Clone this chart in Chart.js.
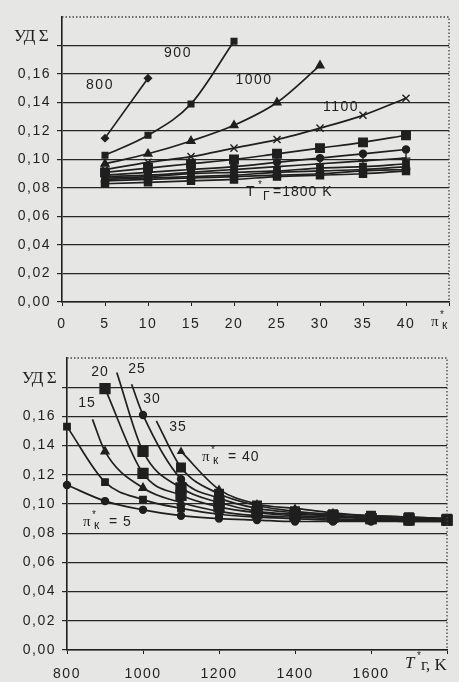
<!DOCTYPE html>
<html>
<head>
<meta charset="utf-8">
<script src="https://cdn.jsdelivr.net/npm/chart.js@4/dist/chart.umd.min.js"></script>
<style>
  html, body { margin: 0; padding: 0; background: #e6e6e4; }
  #wrap { position: relative; width: 459px; height: 682px; overflow: hidden; }
  canvas { position: absolute; left: 0; }
  #top { top: 0; }
  #bot { top: 340px; }
</style>
</head>
<body>
<div id="wrap">
  <canvas id="top" width="459" height="340"></canvas>
  <canvas id="bot" width="459" height="342"></canvas>
</div>
<script>
// --- верхний график: УДΣ от π*к при разных T*г ---
const piK = [5, 10, 15, 20, 25, 30, 35, 40];
const T800 = [0.115, 0.157];
const T900 = [0.103, 0.117, 0.139, 0.183];
const T1000 = [0.097, 0.104, 0.113, 0.124, 0.140, 0.166];
const T1100 = [0.093, 0.098, 0.102, 0.108, 0.114, 0.122, 0.131, 0.143];
const T1200 = [0.091, 0.094, 0.097, 0.100, 0.104, 0.108, 0.112, 0.117];
const T1300 = [0.089, 0.091, 0.093, 0.095, 0.098, 0.101, 0.104, 0.107];
const T1400 = [0.088, 0.089, 0.091, 0.093, 0.095, 0.097, 0.099, 0.101];
const T1500 = [0.087, 0.088, 0.090, 0.091, 0.092, 0.094, 0.095, 0.097];
const T1600 = [0.086, 0.087, 0.088, 0.089, 0.091, 0.092, 0.093, 0.095];
const T1700 = [0.085, 0.086, 0.087, 0.088, 0.089, 0.090, 0.092, 0.093];
const T1800 = [0.083, 0.084, 0.085, 0.086, 0.088, 0.089, 0.090, 0.092];
const xTicksTop = [0, 5, 10, 15, 20, 25, 30, 35, 40];

// --- нижний график: УДΣ от T*г при разных π*к ---
const Tg = [800, 900, 1000, 1100, 1200, 1300, 1400, 1500, 1600, 1700, 1800];
const pk5 = [0.113, 0.102, 0.096, 0.092, 0.090, 0.089, 0.088, 0.088, 0.088, 0.088, 0.088];
const pk10 = [0.153, 0.115, 0.103, 0.097, 0.093, 0.091, 0.090, 0.089, 0.089, 0.088, 0.088];
const pk15 = [null, 0.136, 0.111, 0.101, 0.095, 0.092, 0.091, 0.090, 0.089, 0.089, 0.088];
const pk20 = [null, 0.179, 0.121, 0.106, 0.098, 0.094, 0.092, 0.091, 0.090, 0.089, 0.089];
const pk25 = [null, null, 0.136, 0.111, 0.101, 0.095, 0.093, 0.092, 0.090, 0.090, 0.089];
const pk30 = [null, null, 0.161, 0.117, 0.104, 0.097, 0.094, 0.092, 0.091, 0.090, 0.089];
const pk35 = [null, null, null, 0.125, 0.107, 0.099, 0.095, 0.093, 0.092, 0.091, 0.090];
const pk40 = [null, null, null, 0.136, 0.110, 0.100, 0.097, 0.094, 0.092, 0.091, 0.090];
// начала кривых без маркера (15, 25, 30, 35)
const curveStartT = { 15: 867, 25: 931, 30: 970, 35: 1035 };
const curveStartV = { 15: 0.158, 25: 0.190, 30: 0.182, 35: 0.157 };
const xTicksBot = [800, 1000, 1200, 1400, 1600];

const yTicks = [0, 0.02, 0.04, 0.06, 0.08, 0.10, 0.12, 0.14, 0.16];

const ink = '#1f1f1f';
const tickFont = { family: '"Liberation Sans", Arial, sans-serif', size: 14 };

function pts(xs, ys) {
    const out = [];
    ys.forEach((v, i) => { if (v !== null) out.push({ x: xs[i], y: v }); });
    return out;
}

function series(data, style, radius, extra) {
    return Object.assign({
        data: data,
        borderColor: ink,
        backgroundColor: ink,
        borderWidth: 1.7,
        pointStyle: style,
        pointRadius: radius,
        pointBorderWidth: 1.4,
        cubicInterpolationMode: 'monotone',
        clip: false
    }, extra || {});
}

// кривая с невидимой начальной точкой
function curve(k, ys, style, radius) {
    const data = pts(Tg, ys);
    if (curveStartT[k]) data.unshift({ x: curveStartT[k], y: curveStartV[k] });
    const r = data.map((p, i) => (curveStartT[k] && i === 0) ? 0 : radius);
    return series(data, style, r);
}

const textPlugin = (draw) => ({
    id: 'texts',
    beforeDraw(chart) { chart.ctx.letterSpacing = '1.5px'; },
    afterDraw(chart) {
        const ctx = chart.ctx;
        const a = chart.chartArea;
        ctx.save();
        // пунктирная рамка сверху и справа
        ctx.strokeStyle = '#444';
        ctx.lineWidth = 1.3;
        ctx.setLineDash([1.5, 2]);
        ctx.beginPath();
        ctx.moveTo(a.left, a.top);
        ctx.lineTo(a.right, a.top);
        ctx.lineTo(a.right, a.bottom);
        ctx.stroke();
        ctx.setLineDash([]);
        ctx.fillStyle = ink;
        ctx.textBaseline = 'middle';
        draw(ctx);
        ctx.restore();
    }
});

const sans = '14px "Liberation Sans", Arial, sans-serif';
const serif = '15px "Liberation Serif", "Times New Roman", serif';
const axisTitle = '17px "Liberation Serif", "Times New Roman", serif';

function txt(ctx, s, x, y, font, align, spacing) {
    ctx.font = font || sans;
    ctx.textAlign = align || 'left';
    ctx.letterSpacing = spacing || '0px';
    ctx.fillText(s, x, y);
}

// π*к с верхней звездочкой и нижним индексом
function piLabel(ctx, x, y, rest) {
    txt(ctx, 'π', x, y, serif);
    txt(ctx, '*', x + 9, y - 7, '10px "Liberation Sans", sans-serif');
    txt(ctx, 'к', x + 11, y + 4, '12px "Liberation Sans", sans-serif');
    if (rest) txt(ctx, rest, x + 21, y, sans, 'left', '1px');
}

function yAxis(width) {
    return {
        min: 0, max: 0.2,
        afterBuildTicks: s => { s.ticks = yTicks.concat([0.18, 0.2]).map(v => ({ value: v })); },
        afterFit: s => { s.width = width; },
        ticks: {
            color: ink, font: tickFont, padding: 6,
            callback: v => v > 0.17 ? '' : v.toFixed(2).replace('.', ',')
        },
        grid: {
            color: c => (c.tick && c.tick.value > 0.19) ? 'rgba(0,0,0,0)' : '#262626',
            lineWidth: 1.2, tickLength: 5
        },
        border: { color: ink, width: 1.6 }
    };
}

function xAxis(min, max, ticks, height, pad) {
    return {
        type: 'linear', min: min, max: max,
        afterBuildTicks: s => { s.ticks = ticks.concat([max]).map(v => ({ value: v })); },
        afterFit: s => { s.height = height; },
        ticks: {
            color: ink, font: tickFont, padding: pad, maxRotation: 0,
            callback: v => v >= max ? '' : String(v)
        },
        grid: { drawOnChartArea: false, tickLength: 4, color: ink },
        border: { color: ink, width: 1.6 }
    };
}

const common = {
    responsive: false,
    animation: false,
    plugins: { legend: { display: false }, tooltip: { enabled: false } },
    elements: { line: { tension: 0 } }
};

new Chart(document.getElementById('top').getContext('2d'), {
    type: 'line',
    data: {
        datasets: [
            series(pts(piK, T800), 'rectRot', 3.5),
            series(pts(piK, T900), 'rect', 4),
            series(pts(piK, T1000), 'triangle', 4.5),
            series(pts(piK, T1100), 'crossRot', 5),
            series(pts(piK, T1200), 'rect', 6),
            series(pts(piK, T1300), 'circle', 3.5),
            series(pts(piK, T1400), 'cross', 4.5),
            series(pts(piK, T1500), 'rect', 4.5),
            series(pts(piK, T1600), 'triangle', 4),
            series(pts(piK, T1700), 'circle', 3.5),
            series(pts(piK, T1800), 'rect', 5)
        ]
    },
    options: Object.assign({}, common, {
        layout: { padding: { top: 17, right: 4, left: 0, bottom: 0 } },
        scales: { x: xAxis(0, 45, xTicksTop, 38, 10), y: yAxis(62) }
    }),
    plugins: [textPlugin(ctx => {
        txt(ctx, 'УД Σ', 14, 37, axisTitle, 'left', '-0.5px');
        txt(ctx, '800', 100, 85, sans, 'center', '1.5px');
        txt(ctx, '900', 178, 53, sans, 'center', '1.5px');
        txt(ctx, '1000', 254, 80, sans, 'center', '1.5px');
        txt(ctx, '1100', 341, 107, sans, 'center', '1.5px');
        txt(ctx, 'T', 246, 192, sans);
        txt(ctx, '*', 258, 185, '10px "Liberation Sans", sans-serif');
        txt(ctx, 'Г', 263, 197, '12px "Liberation Sans", sans-serif');
        txt(ctx, '=1800 K', 273, 192, sans, 'left', '1px');
        piLabel(ctx, 431, 322);
    })]
});

new Chart(document.getElementById('bot').getContext('2d'), {
    type: 'line',
    data: {
        datasets: [
            series(pts(Tg, pk5), 'circle', 3.5),
            series(pts(Tg, pk10), 'rect', 4.5),
            curve(15, pk15, 'triangle', 4.5),
            series(pts(Tg, pk20), 'rect', 7),
            curve(25, pk25, 'rect', 7),
            curve(30, pk30, 'circle', 3.5),
            curve(35, pk35, 'rect', 6),
            series(pts(Tg, pk40), 'triangle', 3.5)
        ]
    },
    options: Object.assign({}, common, {
        layout: { padding: { top: 18, right: 4, left: 0, bottom: 0 } },
        scales: { x: xAxis(800, 1800, xTicksBot, 32, 12), y: yAxis(67) }
    }),
    plugins: [textPlugin(ctx => {
        txt(ctx, 'УД Σ', 22, 39, axisTitle, 'left', '-0.5px');
        txt(ctx, '20', 100, 32, sans, 'center', '1px');
        txt(ctx, '25', 137, 29, sans, 'center', '1px');
        txt(ctx, '15', 87, 63, sans, 'center', '1px');
        txt(ctx, '30', 152, 59, sans, 'center', '1px');
        txt(ctx, '35', 178, 87, sans, 'center', '1px');
        piLabel(ctx, 202, 117, ' = 40');
        piLabel(ctx, 83, 182, ' = 5');
        txt(ctx, 'T', 405, 324, 'italic 17px "Liberation Serif", serif');
        txt(ctx, '*', 417, 316, '10px "Liberation Sans", sans-serif');
        txt(ctx, 'г, K', 421, 326, '17px "Liberation Serif", serif');
    })]
});
</script>
</body>
</html>
